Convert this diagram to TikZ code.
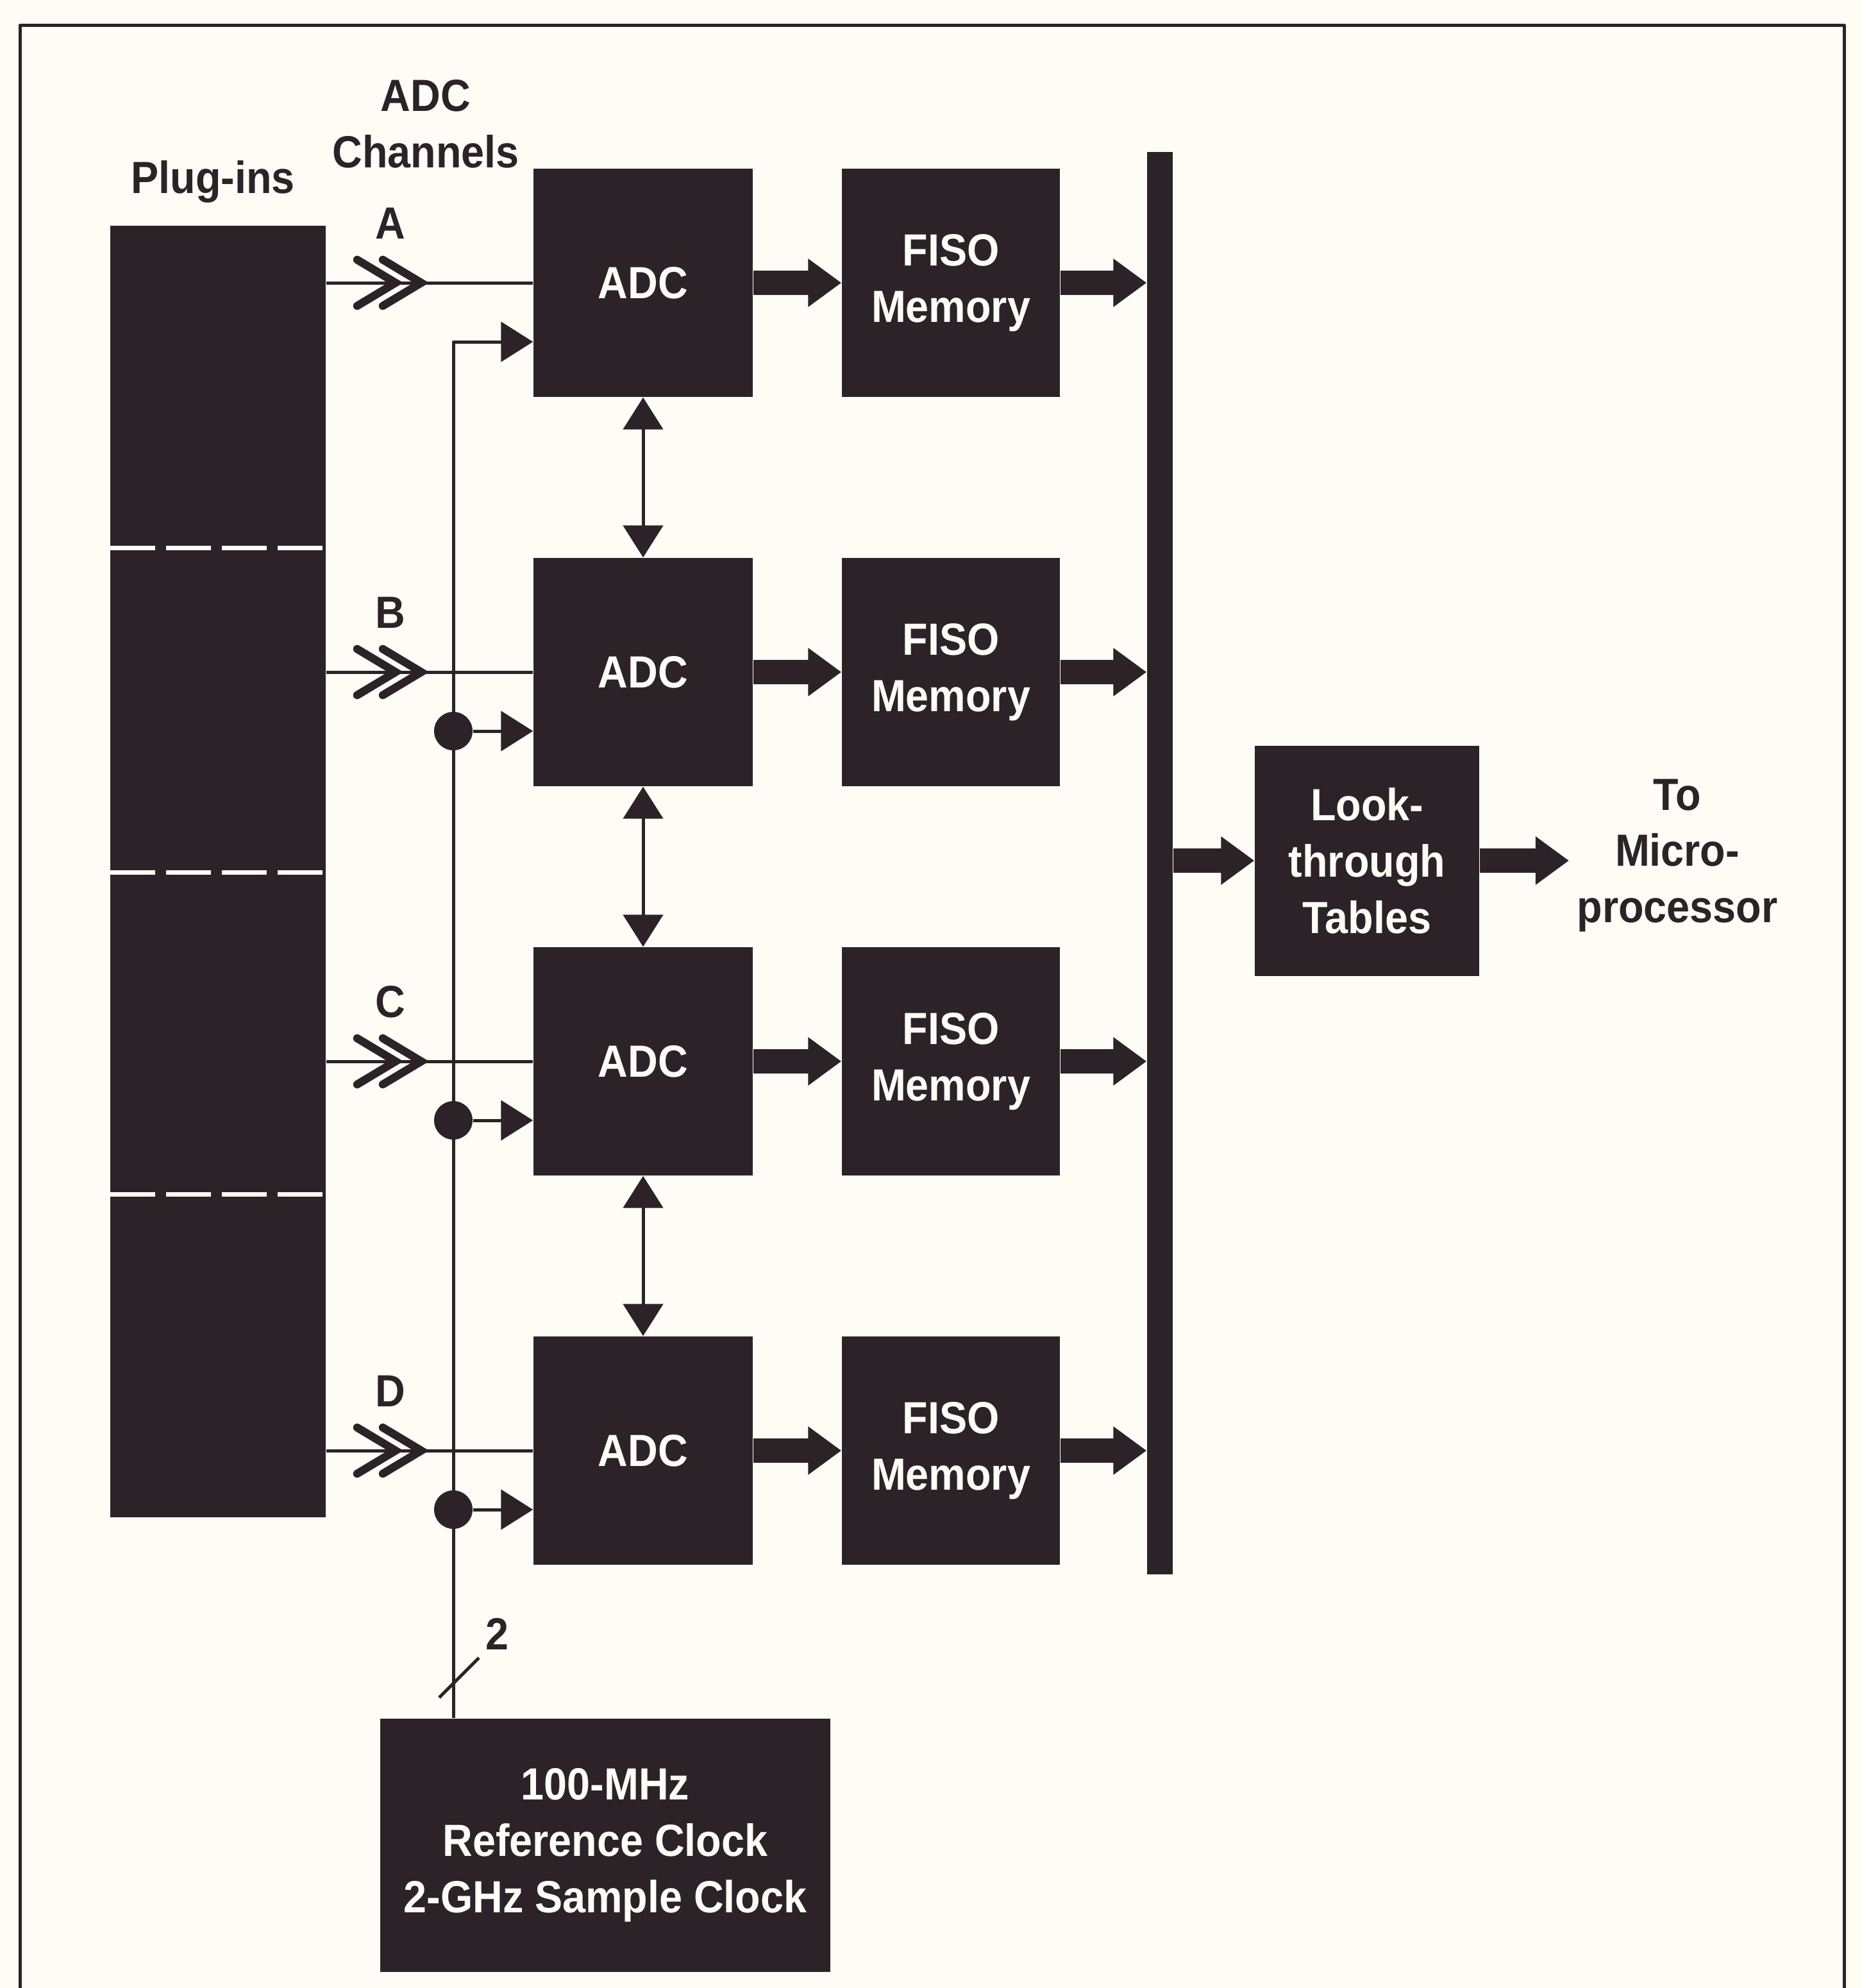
\documentclass[tikz,border=0pt]{standalone}
\usepackage{fontspec}
\setmainfont{Liberation Sans}[FakeStretch=0.92]
\usetikzlibrary{arrows.meta,positioning}
\definecolor{ink}{HTML}{2B2328}
\definecolor{paper}{HTML}{FFFCF5}
\begin{document}
\begin{tikzpicture}[x=1cm, y=-1cm, line join=round, >={Triangle[length=5mm,width=6.2mm]}, font=\fontsize{20}{25}\selectfont\bfseries]
	\tikzset{blk/.style={fill=ink, text=paper, align=center, inner sep=0pt, minimum width=3.42cm, minimum height=3.56cm},
		wire/.style={ink, line width=0.5mm},
		fat/.style={ink, line width=3.8mm, -{Triangle[length=5.2mm,width=7.2mm]}},
		chev/.style={ink, line width=1.25mm, line cap=round, line join=miter},
		jdot/.style={circle, fill=ink, inner sep=0pt, minimum size=6mm},
		lbl/.style={text=ink, align=center, inner sep=0pt}}
	\useasboundingbox (0,0) rectangle (29.04,31);
	\fill[paper] (0,0) rectangle (29.04,31);
	\draw[ink, line width=0.5mm] (0.31,31.2) -- (0.31,0.39) -- (28.76,0.39) -- (28.76,31.2);
	% plug-in stack
	\node[fill=ink, inner sep=0pt, minimum width=3.36cm, minimum height=20.14cm] (plug) at (3.40,13.59) {};
	\foreach \y in {8.54,13.60,18.62}
	\draw[paper, line width=0.7mm, dash pattern=on 7mm off 1.7mm] (1.72,\y) -- (5.08,\y);
	\node[lbl] (plugins) at (3.32,2.83) {Plug-ins};
	\node[lbl] (chans) at (6.64,1.93) {ADC\\Channels};
	% bus
	\node[fill=ink, inner sep=0pt, minimum width=4mm, minimum height=22.18cm] (bus) at (18.09,13.46) {};
	% clock
	\node[blk, minimum width=7.02cm, minimum height=3.95cm] (clk) at (9.44,28.77) {100-MHz\\Reference Clock\\2-GHz Sample Clock};
	\foreach \c/\y in {A/4.41,B/10.48,C/16.55,D/22.62}{
		\node[blk] (adc\c) at (10.03,\y) {ADC};
		\node[blk, minimum width=3.40cm] (fiso\c) at (14.83,\y) {FISO\\Memory};
		\node[lbl] (ch\c) at (6.09,\y-0.93) {\c};
		\draw[wire] (plug.east |- adc\c.west) -- (adc\c.west);
		\draw[chev] (6.17,\y) +(-0.6,-0.36) -- +(0,0) -- +(-0.6,0.36);
		\draw[chev] (6.57,\y) +(-0.6,-0.36) -- +(0,0) -- +(-0.6,0.36);
		\draw[fat] (adc\c.east) -- (fiso\c.west);
		\draw[fat] (fiso\c.east) -- (fiso\c.east -| bus.west);
	}
	\coordinate (clkA) at (7.07,5.33);
	\draw[wire,->] (clkA |- clk.north) -- (clkA) -- (clkA -| adcA.west);
	\foreach \c/\y in {B/11.40,C/17.47,D/23.54}{
		\node[jdot] (j\c) at (7.07,\y) {};
		\draw[wire,->] (j\c) -- (j\c -| adc\c.west);
	}
	\foreach \a/\b in {A/B,B/C,C/D}
	\draw[wire,<->] (adc\a.south) -- (adc\b.north);
	\draw[wire] (6.85,26.47) -- (7.47,25.85);
	\node[lbl] (nclk) at (7.75,25.48) {2};
	% look-through
	\node[blk, minimum width=3.50cm, minimum height=3.59cm] (lut) at (21.32,13.42) {Look-\\through\\Tables};
	\draw[fat] (lut -| bus.east) -- (lut.west);
	\node[lbl, inner sep=1.2mm] (micro) at (26.16,13.34) {To\\Micro-\\processor};
	\draw[fat] (lut.east) -- (lut.east -| micro.west);
\end{tikzpicture}
\end{document}
